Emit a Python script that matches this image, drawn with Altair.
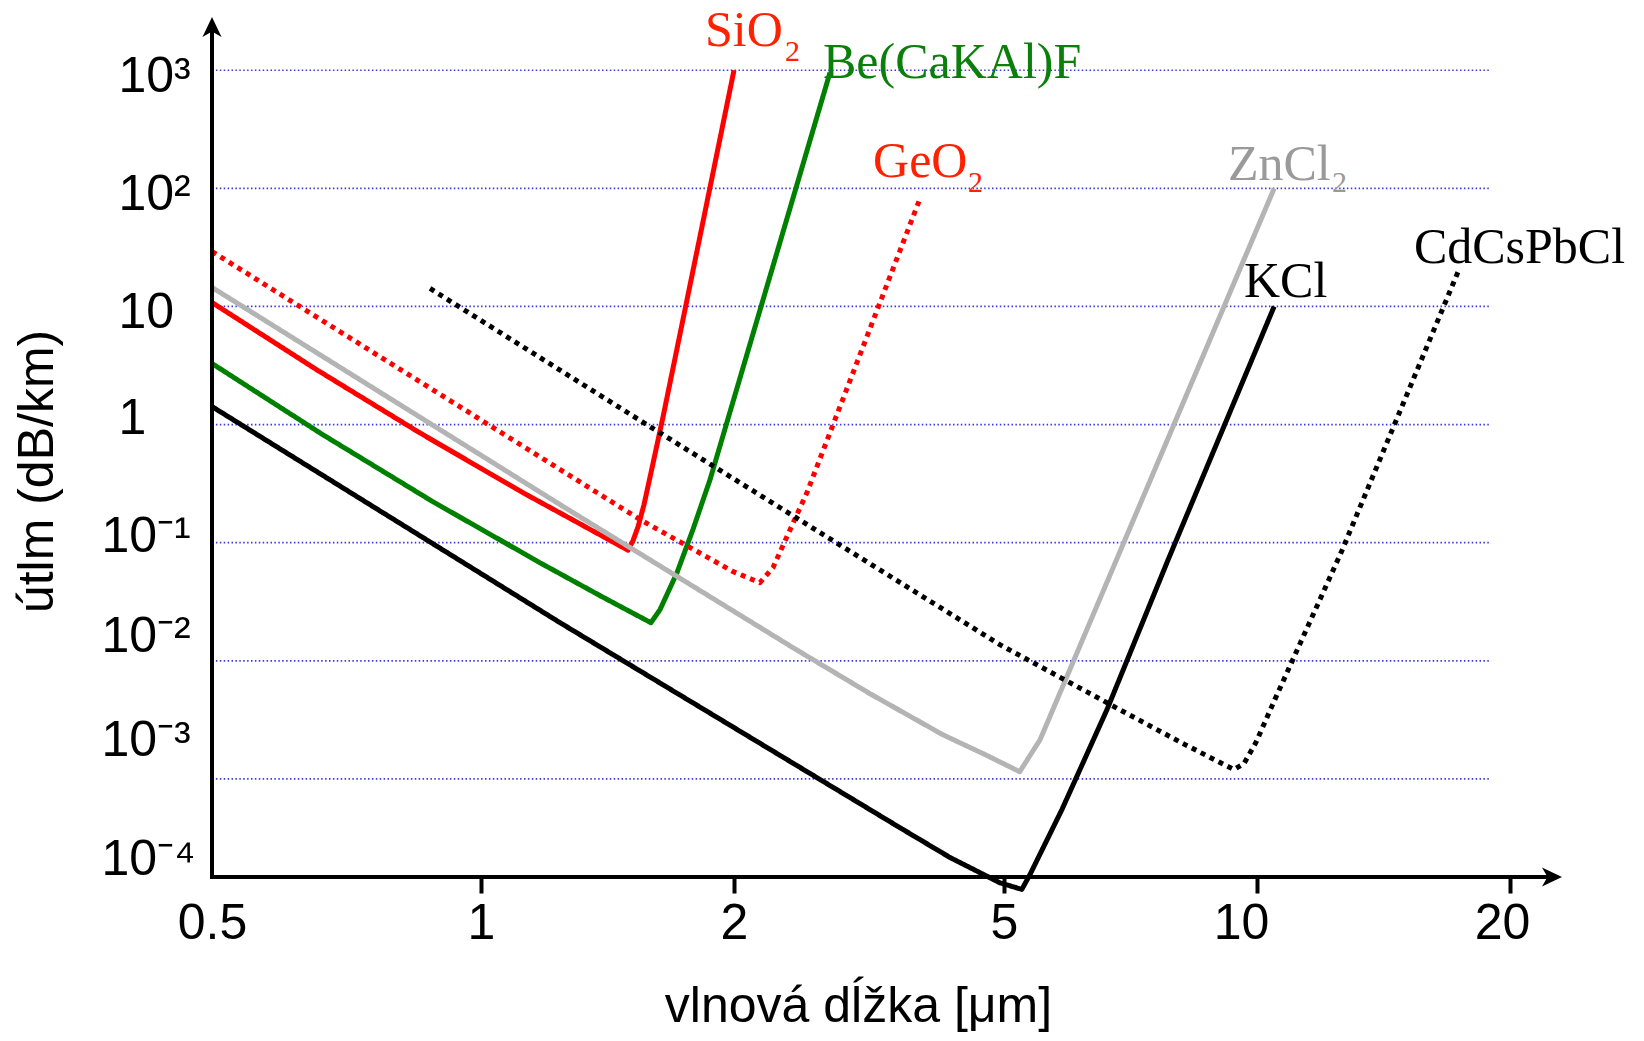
import math
import altair as alt
import pandas as pd

# ---------------- data ----------------
names = ["SiO2", "Be(CaKAl)F", "GeO2", "ZnCl2", "KCl", "CdCsPbCl"]

sio2_wl = [0.5, 0.654, 0.855, 1.125, 1.31, 1.496, 1.5165, 1.538, 1.563, 1.598, 1.646, 2.0]
sio2_att = [10.8, 2.93, 0.847, 0.262, 0.145, 0.0863, 0.104, 0.137, 0.210, 0.432, 1.146, 1000]

be_wl = [0.5, 0.664, 0.881, 1.179, 1.397, 1.593, 1.633, 1.711, 1.787, 1.873, 2.77]
be_att = [3.29, 0.828, 0.225, 0.0668, 0.0345, 0.021, 0.0271, 0.0558, 0.129, 0.342, 955]

geo2_wl = [0.5, 0.854, 1.546, 1.995, 2.184, 2.283, 2.394, 2.562, 3.76]
geo2_att = [29.2, 2.31, 0.157, 0.0569, 0.0459, 0.0615, 0.1127, 0.266, 82]

zncl2_wl = [0.5, 1.242, 2.444, 3.172, 4.06, 4.686, 5.22, 5.52, 10.48]
zncl2_att = [14.5, 0.210, 0.0129, 0.00527, 0.00237, 0.00161, 0.00115, 0.00215, 99.6]

kcl_wl = [0.5, 1.242, 3.51, 4.163, 4.93, 5.25, 5.369, 5.86, 6.63, 7.84, 10.48]
kcl_att = [1.42, 0.021, 3.87e-4, 2.16e-4, 1.32e-4, 1.16e-4, 1.55e-4, 5.5e-4, 0.00386, 0.0719, 9.98]

cdcs_wl = [0.877, 1.554, 4.93, 6.93, 8.21, 9.39, 9.65, 9.97, 10.5, 12.59, 17.39]
cdcs_att = [14.2, 1.06, 0.0137, 0.00372, 0.00195, 0.0012, 0.00135, 0.00203, 0.00469, 0.0824, 20.5]

x_ticks = [0.5, 1, 2, 5, 10, 20]
y_ticks = [1000, 100, 10, 1, 0.1, 0.01, 0.001, 0.0001]
y_tick_labels = ["10³", "10²", "10", "1", "10⁻¹", "10⁻²", "10⁻³", "10⁻⁴"]
grid_values = [1000, 100, 10, 1, 0.1, 0.01, 0.001]

label_texts = ["SiO", "Be(CaKAl)F", "GeO", "ZnCl", "KCl", "CdCsPbCl"]
label_wl = [1.847, 2.705, 3.206, 9.235, 9.65, 15.37]
label_att = [1620, 867, 126, 118.7, 12.1, 23.5]

sub_texts = ["2", "2", "2"]
sub_owner = ["SiO2", "GeO2", "ZnCl2"]
sub_wl = [2.378, 4.424, 12.28]
sub_att = [1200, 94, 94]

# ---------------- styles ----------------
line_colors = ["#ff0000", "#008000", "#ff0000", "#b4b4b4", "#000000", "#000000"]
line_dashes = [[1, 0], [1, 0], [5, 5], [1, 0], [1, 0], [5, 5]]
text_colors = {"SiO2": "#ff2200", "Be(CaKAl)F": "#0a7f0a", "GeO2": "#ff2200",
               "ZnCl2": "#9a9a9a", "KCl": "#000000", "CdCsPbCl": "#000000"}

W, H = 1350, 878
x_tick_px = [0, 269, 522, 792, 1045, 1298]  # the drawing's uneven wavelength axis

# ---------------- tables ----------------
series = [sio2_wl, be_wl, geo2_wl, zncl2_wl, kcl_wl, cdcs_wl]
values = [sio2_att, be_att, geo2_att, zncl2_att, kcl_att, cdcs_att]
rows = []
for n, wl, att in zip(names, series, values):
    for i, (a, b) in enumerate(zip(wl, att)):
        rows.append({"name": n, "i": i, "wl": a, "att": b})
curves = pd.DataFrame(rows)

grid_df = pd.DataFrame({"att": grid_values})
labels_df = pd.DataFrame({"text": label_texts, "wl": label_wl, "att": label_att,
                          "color": [text_colors[n] for n in names]})
subs_df = pd.DataFrame({"text": sub_texts, "wl": sub_wl, "att": sub_att,
                        "color": [text_colors[n] for n in sub_owner]})
one = pd.DataFrame({"k": [0]})

# ---------------- scales & axes ----------------
x_scale = alt.Scale(type="log", domain=x_ticks, range=x_tick_px, nice=False)
y_scale = alt.Scale(type="log", domain=[1e-4, 2716], nice=False)

expr = "''"
for v, lab in zip(reversed(y_ticks), reversed(y_tick_labels)):
    k = round(math.log10(v))
    expr = f"round(log(datum.value)/LN10) == {k} ? '{lab}' : ({expr})"

x_axis = alt.Axis(
    values=x_ticks, format="~g", title="vlnová dĺžka [μm]",
    grid=False, domain=False, offset=-20,
    tickSize=16, tickWidth=4, tickColor="black",
    tickOpacity={"condition": {"test": "datum.value < 0.7", "value": 0}, "value": 1},
    labelFont="Liberation Sans", labelFontSize=50, labelColor="black",
    labelBaseline="top", labelPadding=5, labelFlush=False, labelOverlap=False,
    labelOffset={"condition": [{"test": "datum.value > 15", "value": -8},
                               {"test": "datum.value > 7", "value": -16}], "value": 0},
    titleFont="Liberation Sans", titleFontSize=50, titleFontWeight="normal",
    titleColor="black", titleX=646, titleY=144, titleAlign="center",
    titleBaseline="alphabetic",
)
y_axis = alt.Axis(
    values=y_ticks, labelExpr=expr, title="útlm (dB/km)",
    grid=False, domain=False, ticks=False, tickSize=0,
    labelFont="Liberation Sans", labelFontSize=50, labelColor="black",
    labelAlign="left", labelBaseline="middle", labelFlush=False, labelOverlap=False,
    labelPadding={"condition": {"test": "datum.value < 0.5", "value": 111}, "value": 94},
    labelOffset={"condition": [{"test": "datum.value > 5", "value": 6},
                               {"test": "datum.value > 0.05", "value": -6},
                               {"test": "datum.value > 0.005", "value": -24}], "value": -38},
    titleFont="Liberation Sans", titleFontSize=50, titleFontWeight="normal",
    titleColor="black", titleAngle=270, titleX=-160, titleY=452,
    titleAlign="center", titleBaseline="alphabetic",
)

X = alt.X("wl:Q", scale=x_scale, axis=x_axis)
Y = alt.Y("att:Q", scale=y_scale, axis=y_axis)

grid = alt.Chart(grid_df).mark_rule(
    stroke="#3b3bdd", strokeWidth=1.7, strokeDash=[1.5, 2.4]
).encode(y=Y, x=alt.value(0), x2=alt.value(1277))

lines = alt.Chart(curves).mark_line(
    strokeWidth=5, strokeJoin="round", strokeCap="butt"
).encode(
    x=X, y=Y,
    color=alt.Color("name:N", scale=alt.Scale(domain=names, range=line_colors), legend=None),
    strokeDash=alt.StrokeDash("name:N", scale=alt.Scale(domain=names, range=line_dashes), legend=None),
    order=alt.Order("i:Q"),
)

labels = alt.Chart(labels_df).mark_text(
    align="left", baseline="alphabetic", font="Liberation Serif", fontSize=50
).encode(x=X, y=Y, text="text:N", color=alt.Color("color:N", scale=None))

subs = alt.Chart(subs_df).mark_text(
    align="left", baseline="alphabetic", font="Liberation Serif", fontSize=30
).encode(x=X, y=Y, text="text:N", color=alt.Color("color:N", scale=None))

y_line = alt.Chart(one).mark_rule(color="black", strokeWidth=4).encode(
    x=alt.value(0), y=alt.value(6), y2=alt.value(860))
x_line = alt.Chart(one).mark_rule(color="black", strokeWidth=4).encode(
    y=alt.value(858), x=alt.value(-2), x2=alt.value(1338))

y_arrow = alt.Chart(one).mark_point(
    shape="M0,-1L-0.95,1L0,0.45L0.95,1Z", filled=True, size=400, color="black", opacity=1
).encode(x=alt.value(0), y=alt.value(8))
x_arrow = alt.Chart(one).mark_point(
    shape="M1,0L-1,-0.95L-0.45,0L-1,0.95Z", filled=True, size=400, color="black", opacity=1
).encode(x=alt.value(1340), y=alt.value(858))

chart = alt.layer(grid, lines, labels, subs, y_line, x_line, y_arrow, x_arrow).properties(
    width=W, height=H,
    padding={"left": 204, "top": 11, "right": 72, "bottom": 136},
    autosize=alt.AutoSizeParams(type="none"),
    background="white",
).configure_view(stroke=None)

chart.save("out.html", embed_options={"renderer": "svg", "actions": False})
